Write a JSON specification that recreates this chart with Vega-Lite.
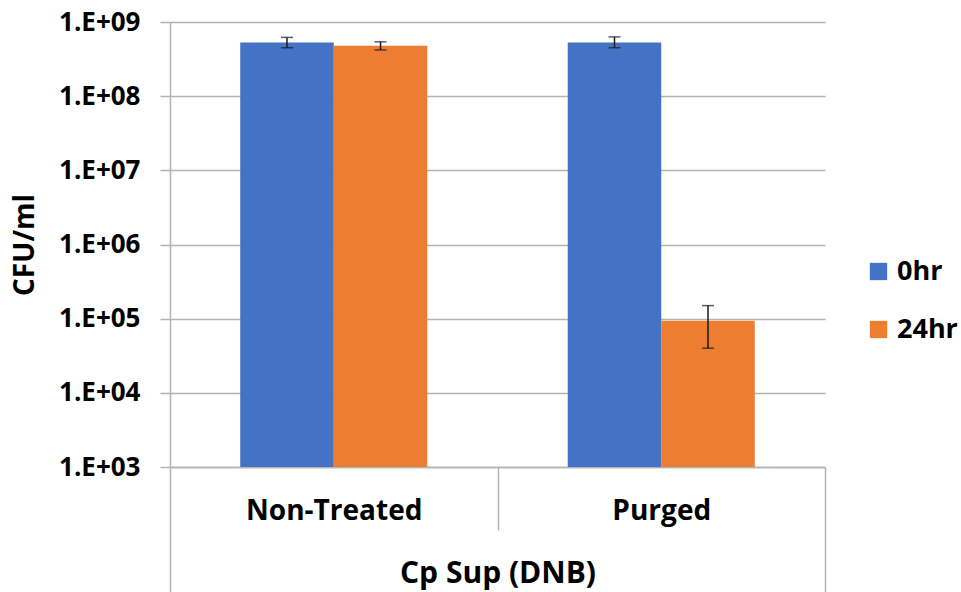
{
  "$schema": "https://vega.github.io/schema/vega-lite/v6.json",
  "width": 655,
  "height": 445,
  "autosize": {"type": "none"},
  "padding": {"left": 170, "top": 22, "right": 136, "bottom": 125},
  "background": "white",
  "config": {
    "font": "Open Sans",
    "view": {"stroke": null},
    "axis": {"labelColor": "black", "titleColor": "black", "labelFontWeight": "bold", "titleFontWeight": "bold"}
  },
  "data": {
    "values": [
      {"group": "Non-Treated", "series": "0hr", "value": 530000000, "lo": 450000000, "hi": 620000000},
      {"group": "Non-Treated", "series": "24hr", "value": 480000000, "lo": 420000000, "hi": 540000000},
      {"group": "Purged", "series": "0hr", "value": 530000000, "lo": 450000000, "hi": 630000000},
      {"group": "Purged", "series": "24hr", "value": 94000, "lo": 40000, "hi": 150000}
    ]
  },
  "encoding": {
    "x": {
      "field": "group",
      "type": "nominal",
      "sort": ["Non-Treated", "Purged"],
      "scale": {"paddingInner": 0, "paddingOuter": 0},
      "axis": {
        "title": "Cp Sup (DNB)",
        "titleFontSize": 30,
        "titleY": 106,
        "titleBaseline": "middle",
        "labelAngle": 0,
        "labelFontSize": 28,
        "labelBaseline": "middle",
        "labelPadding": {"expr": "datum.index == 0 ? -19 : -81"},
        "tickBand": "extent",
        "tickSize": {"expr": "datum.index == 0 ? 63 : 125"},
        "tickColor": "#b3b3b3",
        "tickWidth": 1.5,
        "domainColor": "#b3b3b3",
        "domainWidth": 1.5,
        "grid": false
      }
    },
    "xOffset": {
      "field": "series",
      "type": "nominal",
      "sort": ["0hr", "24hr"],
      "scale": {"paddingInner": 0, "paddingOuter": 0.751}
    }
  },
  "layer": [
    {
      "mark": {"type": "bar"},
      "encoding": {
        "y": {
          "field": "value",
          "type": "quantitative",
          "scale": {"type": "log", "domain": [1000, 1000000000], "nice": false},
          "axis": {
            "title": "CFU/ml",
            "titleFontSize": 28,
            "titleX": -145,
            "titleBaseline": "middle",
            "values": [1000, 10000, 100000, 1000000, 10000000, 100000000, 1000000000],
            "labelExpr": "'1.E+0' + format(log(datum.value) / LN10, '.0f')",
            "labelFontSize": 26,
            "labelPadding": 20,
            "tickSize": 10,
            "tickColor": "#b3b3b3",
            "tickWidth": 1.5,
            "domainColor": "#b3b3b3",
            "domainWidth": 1.5,
            "grid": true,
            "gridColor": "#b3b3b3",
            "gridWidth": 1.5
          }
        },
        "y2": {"datum": 1000},
        "color": {
          "field": "series",
          "type": "nominal",
          "sort": ["0hr", "24hr"],
          "scale": {"domain": ["0hr", "24hr"], "range": ["#4472C4", "#ED7D31"]},
          "legend": {
            "title": null,
            "orient": "none",
            "legendX": 695,
            "legendY": 236,
            "symbolType": "square",
            "symbolSize": 300,
            "symbolStrokeWidth": 0,
            "labelFontSize": 27,
            "labelFontWeight": "bold",
            "labelColor": "black",
            "labelOffset": 5,
            "rowPadding": 30
          }
        }
      }
    },
    {
      "mark": {"type": "rule", "color": "#1a1a1a", "strokeWidth": 1.5},
      "encoding": {
        "y": {"field": "lo", "type": "quantitative"},
        "y2": {"field": "hi"}
      }
    },
    {
      "mark": {"type": "tick", "color": "#1a1a1a", "size": 12, "thickness": 1.5},
      "encoding": {"y": {"field": "lo", "type": "quantitative"}}
    },
    {
      "mark": {"type": "tick", "color": "#1a1a1a", "size": 12, "thickness": 1.5},
      "encoding": {"y": {"field": "hi", "type": "quantitative"}}
    }
  ]
}
